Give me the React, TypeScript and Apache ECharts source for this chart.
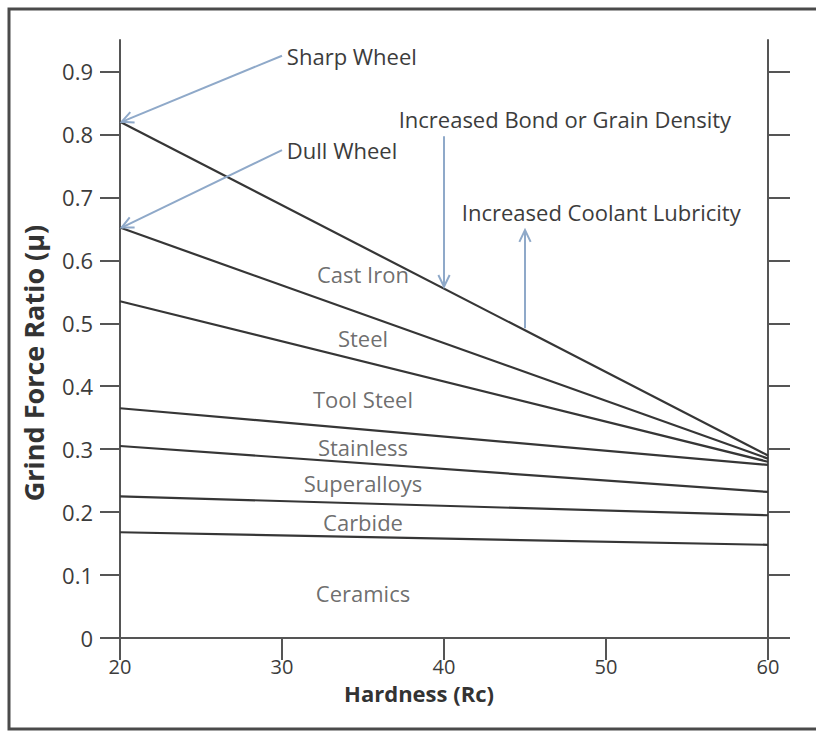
import React, { useEffect, useRef } from "react";
import * as echarts from "echarts";

// ---- data ----
const hardnessTicks = [20, 30, 40, 50, 60];
const ratioTicks = [0, 0.1, 0.2, 0.3, 0.4, 0.5, 0.6, 0.7, 0.8, 0.9];
const boundaryNames = [
  "Sharp Wheel",
  "Dull Wheel",
  "Steel / Tool Steel",
  "Tool Steel / Stainless",
  "Stainless / Superalloys",
  "Superalloys / Carbide",
  "Carbide / Ceramics",
];
const ratioAt20 = [0.82, 0.652, 0.535, 0.365, 0.305, 0.225, 0.168];
const ratioAt60 = [0.29, 0.285, 0.28, 0.275, 0.232, 0.195, 0.148];

const materialNames = ["Cast Iron", "Steel", "Tool Steel", "Stainless", "Superalloys", "Carbide", "Ceramics"];
const materialHardness = [35, 35, 35, 35, 35, 35, 35];
const materialRatio = [0.579, 0.477, 0.38, 0.304, 0.246, 0.184, 0.072];

const noteTexts = ["Sharp Wheel", "Dull Wheel", "Increased Bond or Grain Density", "Increased Coolant Lubricity"];
const noteAnchors = [
  [30.3, 0.925],
  [30.3, 0.775],
  [37.2, 0.825],
  [41.1, 0.677],
];
const arrowFrom = [
  [30.0, 0.925],
  [30.0, 0.775],
  [40.0, 0.797],
  [45.0, 0.492],
];
const arrowTo = [
  [20.1, 0.82],
  [20.1, 0.652],
  [40.0, 0.558],
  [45.0, 0.648],
];

const FONT = "'Open Sans', sans-serif";
const TEXT = "#3c3c3c";
const AXIS = "#555";
const ARROW = "#8fa9c9";

export default function App() {
  const ref = useRef<HTMLDivElement>(null);
  useEffect(() => {
    document.body.style.margin = "0";
    const chart = echarts.init(ref.current!, null, { renderer: "svg" });
    const axisLineStyle = { color: AXIS, width: 2 };
    const option: any = {
      animation: false,
      backgroundColor: "#fff",
      grid: { left: 120, right: 48, top: 40, bottom: 95 },
      xAxis: {
        type: "value",
        min: 20,
        max: 60,
        interval: 10,
        axisLine: { show: true, onZero: false, lineStyle: axisLineStyle },
        axisTick: { show: true, length: 22, lineStyle: axisLineStyle },
        axisLabel: { margin: 18, fontSize: 20, color: TEXT, fontFamily: FONT, customValues: hardnessTicks },
        splitLine: { show: false },
      },
      yAxis: [
        {
          type: "value",
          position: "left",
          min: 0,
          max: 0.95,
          axisLine: { show: true, lineStyle: axisLineStyle },
          axisTick: { show: true, length: 20, lineStyle: axisLineStyle, customValues: ratioTicks },
          axisLabel: {
            customValues: ratioTicks,
            margin: 27,
            fontSize: 22,
            color: TEXT,
            fontFamily: FONT,
            formatter: (v: number) => (v === 0 ? "0" : v.toFixed(1)),
          },
          splitLine: { show: false },
        },
        {
          type: "value",
          position: "right",
          min: 0,
          max: 0.95,
          axisLine: { show: true, lineStyle: axisLineStyle },
          axisTick: { show: true, length: 22, lineStyle: axisLineStyle, customValues: ratioTicks },
          axisLabel: { show: false },
          splitLine: { show: false },
        },
      ],
      series: [
        ...boundaryNames.map((name, i) => ({
          name,
          type: "line",
          symbol: "none",
          data: [
            [hardnessTicks[0], ratioAt20[i]],
            [hardnessTicks[hardnessTicks.length - 1], ratioAt60[i]],
          ],
          lineStyle: { color: "#363636", width: 2.2 },
          z: 3,
        })),
        {
          name: "Materials",
          type: "scatter",
          symbolSize: 0,
          data: materialNames.map((n, i) => ({ name: n, value: [materialHardness[i], materialRatio[i]] })),
          label: {
            show: true,
            position: "inside",
            formatter: "{b}",
            fontSize: 22,
            color: "#484848",
            fontFamily: FONT,
          },
          z: 4,
        },
      ],
    };
    chart.setOption(option);

    const px = (v: number[]) => chart.convertToPixel({ gridIndex: 0 }, v) as number[];
    const graphics: any[] = [];
    // frame
    graphics.push({
      type: "rect",
      shape: { x: 9, y: 9, width: 830, height: 720 },
      style: { fill: "none", stroke: "#4a4a4a", lineWidth: 3 },
      silent: true,
    });
    // x axis line extensions
    const o = px([20, 0]);
    const e = px([60, 0]);
    graphics.push({
      type: "line",
      shape: { x1: o[0] - 20, y1: o[1], x2: e[0] + 22, y2: e[1] },
      style: { stroke: AXIS, lineWidth: 2 },
    });
    // axis names
    graphics.push({
      type: "text",
      x: 33,
      y: 363,
      rotation: Math.PI / 2,
      style: {
        text: "Grind Force Ratio (µ)",
        fontSize: 27,
        fontWeight: "bold",
        fontFamily: FONT,
        fill: "#333",
        align: "center",
        verticalAlign: "middle",
      },
    });
    graphics.push({
      type: "text",
      x: 419,
      y: 693,
      style: {
        text: "Hardness (Rc)",
        fontSize: 22,
        fontWeight: "bold",
        fontFamily: FONT,
        fill: "#333",
        align: "center",
        verticalAlign: "middle",
      },
    });
    // notes
    noteTexts.forEach((t, i) => {
      const p = px(noteAnchors[i]);
      graphics.push({
        type: "text",
        x: p[0],
        y: p[1],
        style: { text: t, fontSize: 22, fontFamily: FONT, fill: TEXT, align: "left", verticalAlign: "middle" },
      });
    });
    // arrows
    arrowFrom.forEach((f, i) => {
      const a = px(f);
      const b = px(arrowTo[i]);
      const ang = Math.atan2(b[1] - a[1], b[0] - a[0]);
      const L = 13;
      const spread = Math.PI / 7;
      const h1 = [b[0] - L * Math.cos(ang - spread), b[1] - L * Math.sin(ang - spread)];
      const h2 = [b[0] - L * Math.cos(ang + spread), b[1] - L * Math.sin(ang + spread)];
      graphics.push({
        type: "line",
        shape: { x1: a[0], y1: a[1], x2: b[0], y2: b[1] },
        style: { stroke: ARROW, lineWidth: 2 },
        z: 10,
      });
      graphics.push({
        type: "polyline",
        shape: { points: [h1, b, h2] },
        style: { stroke: ARROW, lineWidth: 2, fill: "none" },
        z: 10,
      });
    });
    chart.setOption({ graphic: graphics });
    return () => chart.dispose();
  }, []);
  return <div ref={ref} style={{ position: "fixed", left: 0, top: 0, width: 816, height: 733 }} />;
}
